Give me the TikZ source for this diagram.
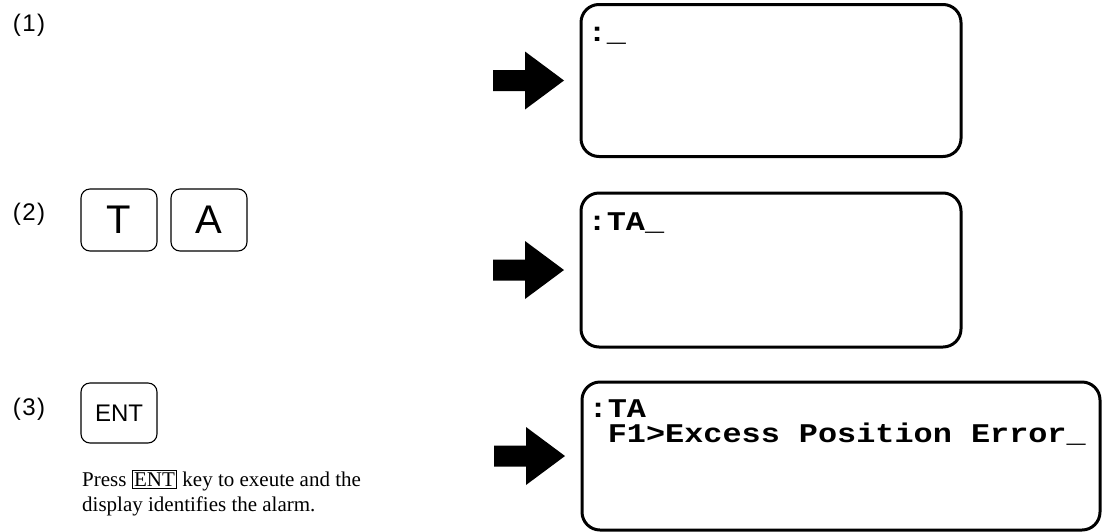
\documentclass[tikz,border=0pt]{standalone}
\usepackage{fontspec}
\setmainfont{Liberation Serif}
\newfontfamily\keyfont{Liberation Sans}
\newfontfamily\lcdfont[FakeStretch=1.18]{Liberation Mono}
\usetikzlibrary{positioning}
\tikzset{
  keybox/.style={draw,line width=1.1pt,rounded corners=9pt,minimum width=76pt,minimum height=62pt,inner sep=0pt,outer sep=0pt},
  lcd/.style={draw,line width=3pt,rounded corners=18pt,minimum width=380pt,minimum height=152pt,outer sep=0pt},
  lcdtext/.style={anchor=base west,inner sep=0pt,align=left,font=\lcdfont\bfseries\fontsize{27}{25}\selectfont},
  steplbl/.style={font=\keyfont\fontsize{24}{26}\selectfont},
  pics/blockarrow/.style={code={\fill (0,-10.5)--(32,-10.5)--(32,-29)--(71,0)--(32,29)--(32,10.5)--(0,10.5)--cycle;}}
}

\begin{document}
\begin{tikzpicture}[x=1pt,y=-1pt]
\useasboundingbox (0,0) rectangle (1111,531);
% step labels
\node[steplbl] (s1) at (29,25) {(\kern1.5pt1\kern1.5pt)};
\node[steplbl] (s2) at (29,214) {(\kern1.5pt2\kern1.5pt)};
\node[steplbl] (s3) at (29,409) {(\kern1.5pt3\kern1.5pt)};
% keys
\node[keybox,font=\keyfont\fontsize{40}{42}\selectfont] (keyT) at (119,220) {T};
\node[keybox,font=\keyfont\fontsize{40}{42}\selectfont,right=14pt of keyT] (keyA) {A};
\node[keybox,minimum height=60pt,font=\keyfont\fontsize{24}{26}\selectfont] (keyEnt) at (119,413) {ENT};
\node[anchor=base west,align=left,inner sep=0pt,font=\fontsize{21}{25}\selectfont] (note) at (82,511)
  {Press {\fboxsep=1.5pt\fboxrule=0.8pt\fbox{ENT}} key to exeute and the\\display identifies the alarm.};
% displays
\node[lcd] (disp1) at (771,80.5) {};
\node[lcd,minimum height=154pt] (disp2) at (771,270) {};
\node[lcd,minimum width=518pt,minimum height=148pt] (disp3) at (841,456) {};
\node[lcdtext] (txt1) at ([xshift=6.5pt,yshift=-37pt]disp1.north west) {:\_};
\node[lcdtext] (txt2) at ([xshift=6.5pt,yshift=-37pt]disp2.north west) {:TA\_};
\node[lcdtext] (txt3) at ([xshift=6.5pt,yshift=-60pt]disp3.north west) {:TA\\\phantom{:}F1>Excess Position Error\_};
% arrows
\pic at ([xshift=-88pt]disp1.west) {blockarrow};
\pic at ([xshift=-88pt]disp2.west) {blockarrow};
\pic at ([xshift=-88pt]disp3.west) {blockarrow};
\end{tikzpicture}
\end{document}
